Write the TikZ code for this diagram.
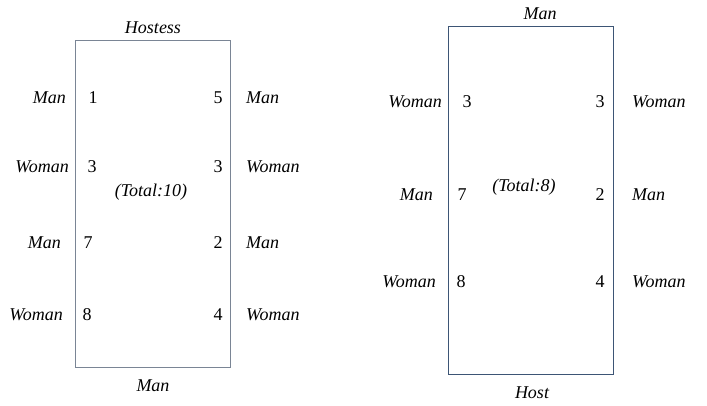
\documentclass[tikz,border=0pt]{standalone}
\usepackage{fontspec}
\setmainfont{Liberation Serif}
\begin{document}
\begin{tikzpicture}[x=1pt,y=-1pt,
  lbl/.style={font=\fontsize{18}{20}\selectfont\itshape, inner sep=0pt},
  num/.style={font=\fontsize{18}{20}\selectfont, inner sep=0pt},
  boxa/.style={draw=boxgray, line width=1.2pt},
  boxb/.style={draw=boxblue, line width=1.2pt}]
\definecolor{boxgray}{HTML}{7A8595}
\definecolor{boxblue}{HTML}{3D5575}
\useasboundingbox (0,0) rectangle (707,405);
% left table
\node[boxa, minimum width=155pt, minimum height=327pt, anchor=north west, inner sep=0pt] (L) at (75,40) {};
\node[lbl] (Lt) at (153,28) {Hostess};
\node[lbl] (Lb) at (153,386) {Man};
\node[lbl, anchor=mid east] (L1l) at (66,101) {Man};
\node[lbl, anchor=mid east] (L2l) at (69,170) {Woman};
\node[lbl, anchor=mid east] (L3l) at (61,246) {Man};
\node[lbl, anchor=mid east] (L4l) at (63,318) {Woman};
\node[lbl, anchor=mid west] (L1r) at (246,101) {Man};
\node[lbl, anchor=mid west] (L2r) at (246,170) {Woman};
\node[lbl, anchor=mid west] (L3r) at (246,246) {Man};
\node[lbl, anchor=mid west] (L4r) at (246,318) {Woman};
\node[num, anchor=mid] (n1) at (93,101) {1};
\node[num, anchor=mid] (n2) at (92,170) {3};
\node[num, anchor=mid] (n3) at (88,246) {7};
\node[num, anchor=mid] (n4) at (87,318) {8};
\node[num, anchor=mid] (n5) at (218,101) {5};
\node[num, anchor=mid] (n6) at (218,170) {3};
\node[num, anchor=mid] (n7) at (218,246) {2};
\node[num, anchor=mid] (n8) at (218,318) {4};
\node[lbl, anchor=mid] (Ltot) at (151,194) {(Total:10)};
% right table
\node[boxb, minimum width=165pt, minimum height=348pt, anchor=north west, inner sep=0pt] (R) at (448,26) {};
\node[lbl] (Rt) at (540,14) {Man};
\node[lbl] (Rb) at (532,393) {Host};
\node[lbl, anchor=mid east] (R1l) at (442,105) {Woman};
\node[lbl, anchor=mid east] (R2l) at (433,198) {Man};
\node[lbl, anchor=mid east] (R3l) at (436,285) {Woman};
\node[lbl, anchor=mid west] (R1r) at (632,105) {Woman};
\node[lbl, anchor=mid west] (R2r) at (632,198) {Man};
\node[lbl, anchor=mid west] (R3r) at (632,285) {Woman};
\node[num, anchor=mid] (m1) at (467,105) {3};
\node[num, anchor=mid] (m2) at (462,198) {7};
\node[num, anchor=mid] (m3) at (461,285) {8};
\node[num, anchor=mid] (m4) at (600,105) {3};
\node[num, anchor=mid] (m5) at (600,198) {2};
\node[num, anchor=mid] (m6) at (600,285) {4};
\node[lbl, anchor=mid] (Rtot) at (524,189) {(Total:8)};
\end{tikzpicture}
\end{document}
